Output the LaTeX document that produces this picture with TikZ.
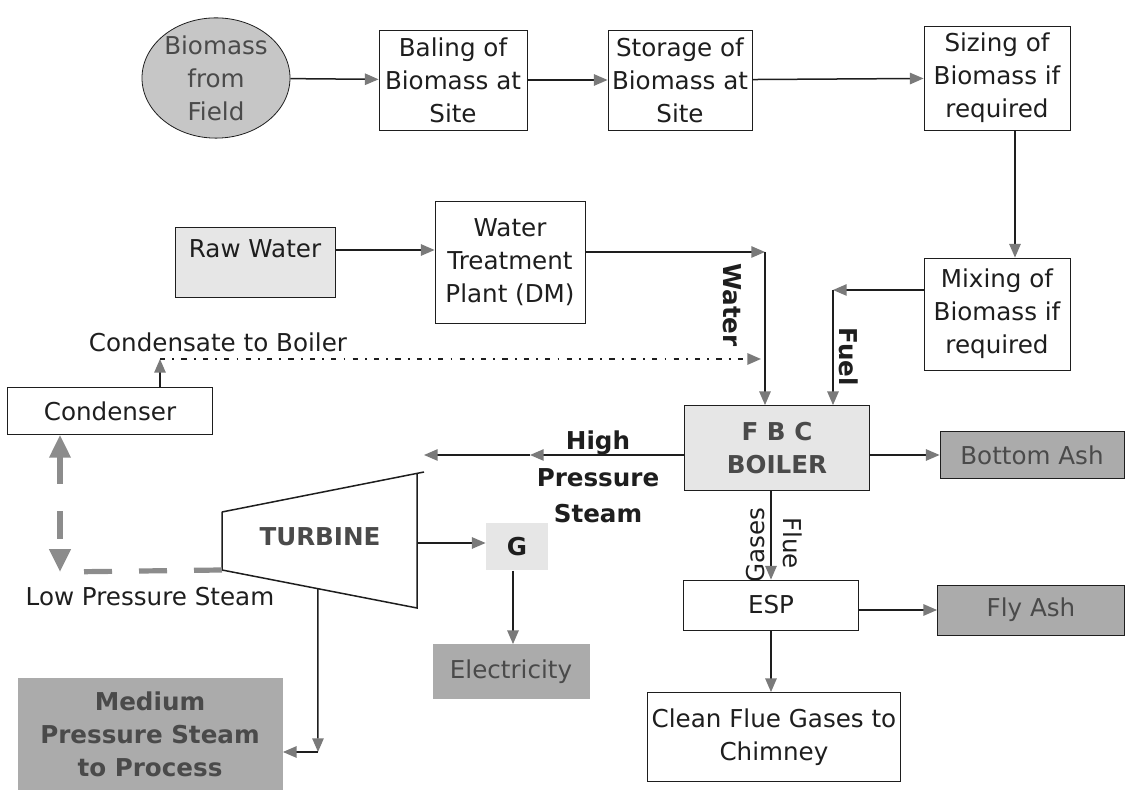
\documentclass[tikz,border=0pt]{standalone}
\usepackage{fontspec}
\setmainfont{DejaVu Sans}
\usetikzlibrary{positioning,arrows.meta,calc,shapes.geometric}
\definecolor{ink}{HTML}{1E1E1E}
\definecolor{tip}{HTML}{7A7A7A}
\definecolor{pale}{HTML}{E6E6E6}
\definecolor{oval}{HTML}{C6C6C6}
\definecolor{dark}{HTML}{ABABAB}
\definecolor{greytext}{HTML}{4A4A4A}
\definecolor{lp}{HTML}{8C8C8C}
\tikzset{
  box/.style={draw=ink,fill=white,align=center,inner sep=2pt,text=ink},
  palebox/.style={draw=ink,fill=pale,align=center,inner sep=2pt,text=greytext},
  darkbox/.style={draw=ink,fill=dark,align=center,inner sep=2pt,text=greytext},
  plain/.style={align=center,text=ink,inner sep=1pt},
  flow/.style={-{Triangle[length=2.4mm,width=2mm,color=tip]},draw=ink,line width=0.75pt},
  dotflow/.style={flow,line width=1pt,dash pattern=on 2.6pt off 3.6pt on 0.9pt off 3.6pt},
  lpflow/.style={draw=lp,line width=2.6pt,dash pattern=on 14pt off 13.5pt,
    arrows={-},>={Triangle[length=4mm,width=3.6mm,color=lp]}}}

\begin{document}
\begin{tikzpicture}[x=0.5pt,y=-0.5pt,font=\fontsize{12.3}{16.5}\selectfont]
  \useasboundingbox (0,0) rectangle (1126,795);
  % fuel chain
  \node[ellipse,draw=ink,fill=oval,text=greytext,align=center,inner sep=0pt,minimum width=74pt,minimum height=55pt] (field) at (216,78) {Biomass\\from\\Field};
  \node[box,minimum width=74pt,minimum height=50pt] (bale) at (453,80) {Baling of\\Biomass at\\Site};
  \node[box,minimum width=72pt,minimum height=50pt] (store) at (680,80) {Storage of\\Biomass at\\Site};
  \node[box,minimum width=73pt,minimum height=52pt] (size) at (997,78) {Sizing of\\Biomass if\\required};
  \node[box,minimum width=73pt,minimum height=56pt] (mix) at (997,314) {Mixing of\\Biomass if\\required};
  \draw[flow] (field) -- (bale);
  \draw[flow] (bale) -- (store);
  \draw[flow] (store) -- (size);
  \coordinate (sm) at (1015,0);
  \draw[flow] (size.south -| sm) -- (mix.north -| sm);
  % water
  \node[palebox,minimum width=80pt,minimum height=35pt,label={[anchor=north,text=ink,yshift=-3pt]north:Raw Water}] (raw) at (255,262) {};
  \node[box,minimum width=75pt,minimum height=61pt] (wtp) at (510,262) {Water\\Treatment\\Plant (DM)};
  \coordinate (rw) at (0,250);
  \draw[flow] (raw.east |- rw) -- (wtp.west |- rw);
  % boiler and outputs
  \node[palebox,minimum width=92.5pt,minimum height=42.5pt,font=\fontsize{12.3}{16.5}\selectfont\bfseries] (boiler) at (777,448) {F B C\\BOILER};
  \node[darkbox,minimum width=92pt,minimum height=23.5pt] (bottom) at (1032,455) {Bottom Ash};
  \coordinate (wc) at (765,252);
  \coordinate (fc) at (833,290);
  \draw[flow] (wtp.east |- wc) -- (wc);
  \draw[flow] (wc) -- (wc |- boiler.north);
  \draw[flow] (mix.west |- fc) -- (fc);
  \draw[flow] (fc) -- (fc |- boiler.north);
  \node[plain,rotate=-90,font=\fontsize{12.3}{16.5}\selectfont\bfseries] (water) at (732,305) {Water};
  \node[plain,rotate=-90,font=\fontsize{12.3}{16.5}\selectfont\bfseries] (fuel) at (849,357) {Fuel};
  \draw[flow] (boiler.east |- bottom) -- (bottom);
  \node[box,minimum width=87.5pt,minimum height=25pt] (esp) at (771,605) {ESP};
  \node[darkbox,minimum width=93.5pt,minimum height=25pt] (fly) at (1031,610) {Fly Ash};
  \node[box,minimum width=119pt,minimum height=44.5pt] (clean) at (774,737) {Clean Flue Gases to\\Chimney};
  \draw[flow] (boiler.south -| esp) -- (esp);
  \node[plain,rotate=-90] (flue) at (793,543) {Flue};
  \node[plain,rotate=90] (gases) at (756,545) {Gases};
  \draw[flow] (esp.east |- fly) -- (fly);
  \draw[flow] (esp) -- (esp |- clean.north);
  % turbine
  \coordinate (t1) at (222,512);
  \coordinate (t2) at (424,472);
  \coordinate (t3) at (417,608);
  \coordinate (t4) at (222,570);
  \draw[ink,line width=0.75pt] (t1) -- (t2) (t1) -- (t4) -- (t3) -- (417,474);
  \node[plain,text=greytext,font=\fontsize{12.3}{16.5}\selectfont\bfseries] (turb) at (320,537) {TURBINE};
  \coordinate (hpin) at (424,455);
  \coordinate (hpmid) at (530,455);
  \draw[flow] (boiler.west |- hpin) -- (hpmid);
  \draw[flow] (hpmid) -- (hpin);
  \node[plain,font=\fontsize{12.3}{18.2}\selectfont\bfseries] (hps) at (598,477) {High\\Pressure\\Steam};
  \node[fill=pale,minimum width=31pt,minimum height=23.5pt,font=\fontsize{12.3}{16.5}\selectfont\bfseries,text=ink] (gen) at (517,547) {G};
  \coordinate (gy) at (0,543);
  \coordinate (gx) at (513,0);
  \draw[flow] (t3 |- gy) -- (gen.west |- gy);
  \node[fill=dark,text=greytext,minimum width=78.5pt,minimum height=27.5pt] (elec) at (511,672) {Electricity};
  \draw[flow] (gen.south -| gx) -- (elec.north -| gx);
  % process steam
  \node[fill=dark,text=greytext,align=center,minimum width=132.5pt,minimum height=56pt,font=\fontsize{12.3}{16.5}\selectfont\bfseries] (medium) at (150,734) {Medium\\Pressure Steam\\to Process};
  \coordinate (tb) at ($(t4)!0.492!(t3)$);
  \coordinate (mt) at (318,752);
  \draw[flow] (tb) -- (mt);
  \draw[flow] (mt) -- (medium.east |- mt);
  \node[plain] (lps) at (150,597) {Low Pressure Steam};
  % condenser loop
  \node[box,minimum width=102.5pt,minimum height=23.5pt] (cond) at (110,411) {Condenser};
  \coordinate (lpc) at (60,572);
  \draw[lpflow] (t4) -- (lpc);
  \draw[lpflow,<->] (cond.south -| lpc) -- (lpc);
  \coordinate (cc) at (160,359);
  \node[plain,anchor=base] (cb) at (218,352) {Condensate to Boiler};
  \draw[flow] (cond.north -| cc) -- (cc);
  \draw[dotflow,shorten >=2pt] (cc) -- (cc -| wc);
\end{tikzpicture}
\end{document}
